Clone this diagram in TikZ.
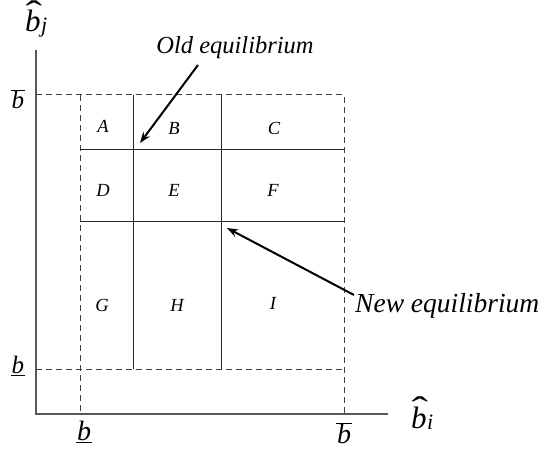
\documentclass[tikz,border=0pt]{standalone}
\usepackage{fontspec}
\setmainfont{Liberation Serif}
\usetikzlibrary{arrows.meta}
\newcommand{\hatb}[1]{\mbox{\ooalign{\textit{b}\cr\hidewidth\kern2pt\raisebox{7.5pt}{\scalebox{1.6}[1.1]{ˆ}}\hidewidth\cr}\kern0.5pt\raisebox{-1pt}{\fontsize{22}{24}\selectfont\textit{#1}}}}
\newcommand{\barb}{$\overline{\mbox{\kern1pt\textit{b}\kern1pt}}$}
\newcommand{\undb}{$\underline{\mbox{\kern1pt\textit{b}\kern1pt}}$}
\begin{document}
\begin{tikzpicture}[x=1pt,y=-1pt,
  axis/.style={line width=1.6pt,draw=black!65},
  gridline/.style={line width=1pt,draw=black!85},
  dashline/.style={line width=1pt,draw=black!75,dash pattern=on 6pt off 4pt},
  lbl/.style={font=\fontsize{18.5}{20}\selectfont\itshape,inner sep=0pt},
  axlbl/.style={font=\fontsize{25}{27}\selectfont,inner sep=0pt},
  xlbl/.style={font=\fontsize{28}{30}\selectfont,inner sep=0pt},
  hatlbl/.style={font=\fontsize{31}{33}\selectfont,inner sep=0pt,anchor=base west},
  note/.style={font=\fontsize{24.5}{26}\selectfont\itshape,inner sep=0pt},
  pointer/.style={line width=2pt,-{Stealth[length=11pt,width=8pt]}}]
\useasboundingbox (0,0) rectangle (541,449);
% coordinates
\coordinate (O) at (36,414);
\coordinate (ytop) at (36,50);
\coordinate (xend) at (388,414);
\coordinate (lt) at (80,95);
\coordinate (lb) at (80,414);
\coordinate (rt) at (344,95);
\coordinate (rb) at (344,414);
\coordinate (tl) at (36,95);
\coordinate (bl) at (36,369);
\coordinate (br) at (344,369);
\coordinate (h1l) at (80,150);
\coordinate (h1r) at (344,150);
\coordinate (h2l) at (80,222);
\coordinate (h2r) at (344,222);
\coordinate (v1t) at (133,95);
\coordinate (v1b) at (133,369);
\coordinate (v2t) at (221,95);
\coordinate (v2b) at (221,369);
\coordinate (oldtip) at (140,143);
\coordinate (newtip) at (227,228);
\coordinate (oldtail) at (198,65);
\coordinate (newtail) at (354,295);
% axes
\draw[axis] (ytop) -- (O) -- (xend);
% dashed bounds
\draw[dashline] (tl) -- (rt) -- (rb);
\draw[dashline] (lt) -- (lb);
\draw[dashline] (bl) -- (br);
% solid grid
\draw[gridline] (h1l) -- (h1r);
\draw[gridline] (h2l) -- (h2r);
\draw[gridline] (v1t) -- (v1b);
\draw[gridline] (v2t) -- (v2b);
% region labels
\node[lbl] (A) at (103,126) {A};
\node[lbl] (B) at (174,128) {B};
\node[lbl] (C) at (274,128) {C};
\node[lbl] (D) at (103,190) {D};
\node[lbl] (E) at (174,190) {E};
\node[lbl] (F) at (273,190) {F};
\node[lbl] (G) at (102,305) {G};
\node[lbl] (H) at (177,305) {H};
\node[lbl] (I) at (273,303) {I};
% axis labels
\node[hatlbl] (bj) at (25,32) {\hatb{j}};
\node[hatlbl] (bi) at (411,428) {\hatb{i}};
\node[axlbl] (ybar) at (18,99) {\barb};
\node[axlbl] (yund) at (18,366) {\undb};
\node[xlbl] (xund) at (84,432) {\undb};
\node[xlbl] (xbar) at (344,433) {\barb};
% notes
\node[note] (old) at (235,48) {Old equilibrium};
\node[note,anchor=west,font=\fontsize{27.5}{29}\selectfont\itshape] (new) at (355,306) {New equilibrium};
\draw[pointer] (oldtail) -- (oldtip);
\draw[pointer] (newtail) -- (newtip);
\end{tikzpicture}
\end{document}
